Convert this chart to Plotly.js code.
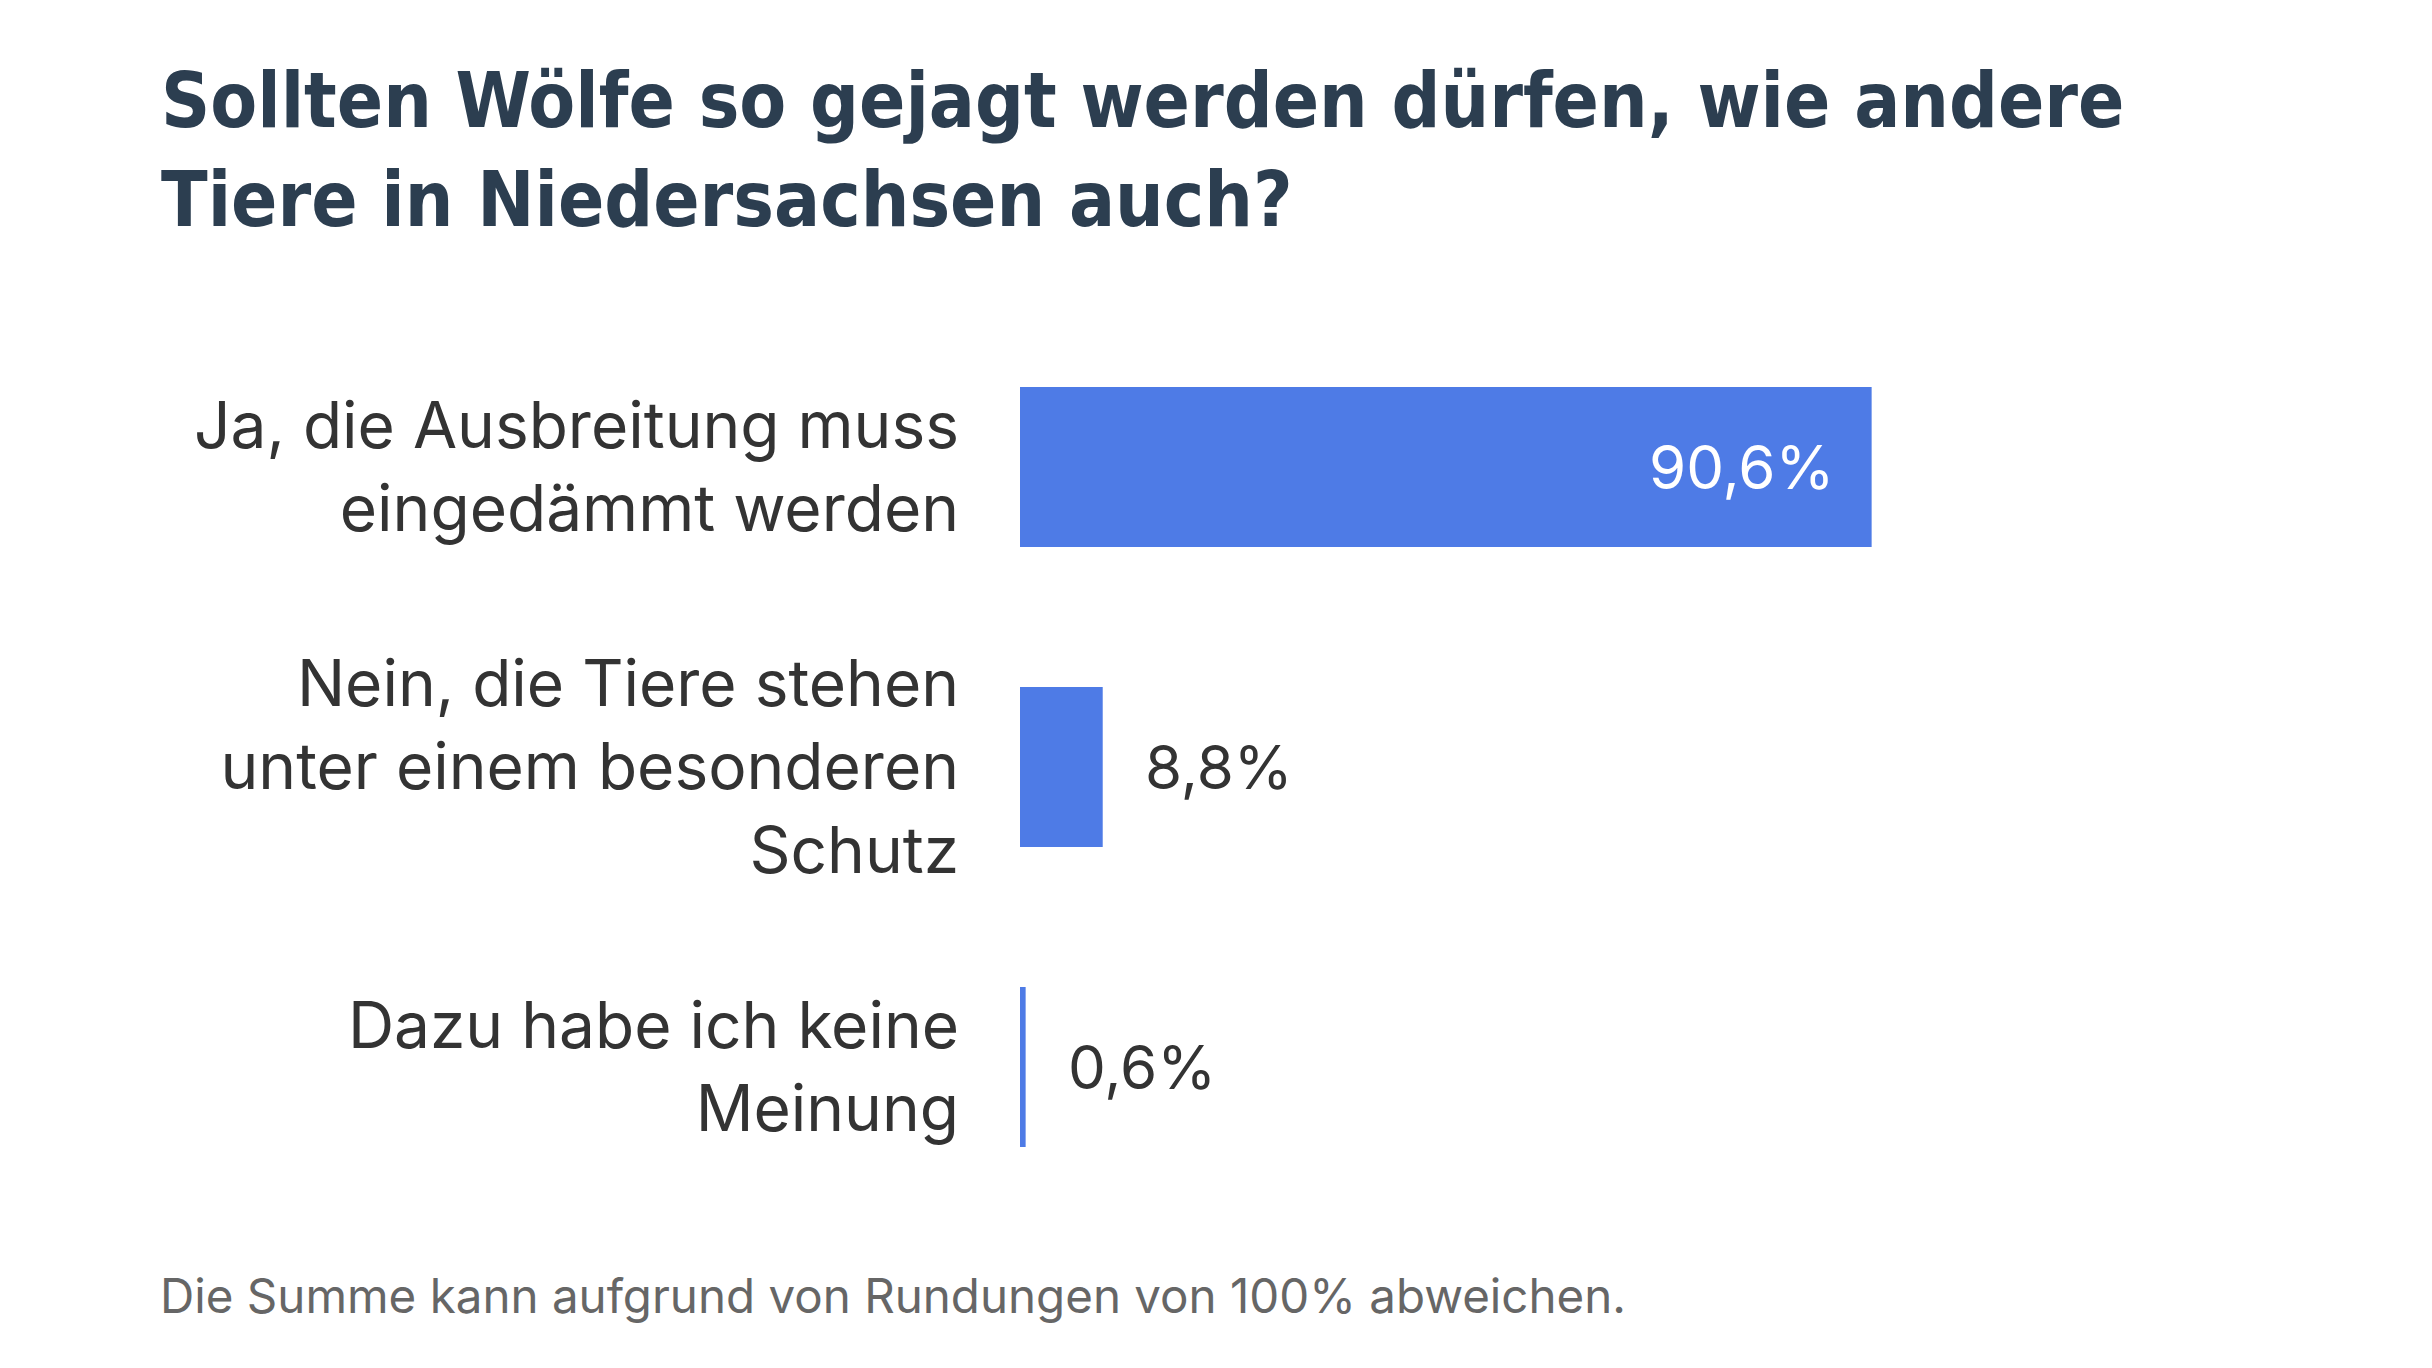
<!DOCTYPE html>
<html>
<head>
<meta charset="utf-8">
<script src="https://cdn.plot.ly/plotly-3.0.1.min.js"></script>
<style>html,body{margin:0;padding:0;background:#fff;}#chart{width:2432px;height:1368px;}</style>
</head>
<body>
<div id="chart"></div>
<script>
const categories = [
  "Ja, die Ausbreitung muss<br>eingedämmt werden",
  "Nein, die Tiere stehen<br>unter einem besonderen<br>Schutz",
  "Dazu habe ich keine<br>Meinung"
];
const values = [90.6, 8.8, 0.6];
const valueLabels = ["90,6%", "8,8%", "0,6%"];
const titleText = "Sollten Wölfe so gejagt werden dürfen, wie andere<br>Tiere in Niedersachsen auch?";
const footnote = "Die Summe kann aufgrund von Rundungen von 100% abweichen.";

const BAR = "#4e7be6";
const FONT = "Inter, 'Noto Sans', sans-serif";

const annotations = values.map((v, i) => {
  const inside = v > 50;
  return {
    x: v, y: categories[i], xref: "x", yref: "y",
    text: valueLabels[i], showarrow: false,
    xanchor: inside ? "right" : "left",
    xshift: inside ? -36 : 40,
    font: {family: FONT, size: 60, color: inside ? "#ffffff" : "#333333"}
  };
});
annotations.push({
  x: -0.9170, y: -0.087, xref: "paper", yref: "paper",
  xanchor: "left", yanchor: "middle", showarrow: false,
  text: footnote,
  font: {family: FONT, size: 47.5, color: "#666666"}
});

const data = [{
  type: "bar", orientation: "h",
  x: values, y: categories,
  marker: {color: BAR},
  hoverinfo: "none"
}];

const layout = {
  width: 2432, height: 1368,
  paper_bgcolor: "#ffffff", plot_bgcolor: "#ffffff",
  margin: {l: 1020, r: 472, t: 317, b: 151},
  bargap: 0.4667,
  showlegend: false,
  title: {
    text: titleText,
    xref: "container", yref: "container",
    x: 161/2432, xanchor: "left",
    y: 1 - 127/1368, yanchor: "top",
    font: {family: "'DejaVu Sans Condensed', 'DejaVu Sans', sans-serif", size: 76, color: "#2c3e50", weight: 700}
  },
  xaxis: {range: [0, 100], visible: false, fixedrange: true},
  yaxis: {
    autorange: "reversed", showgrid: false, zeroline: false, showline: false,
    ticks: "", ticklabelstandoff: 60,
    tickfont: {family: FONT, size: 64, color: "#333333"},
    fixedrange: true
  },
  annotations: annotations
};

Plotly.newPlot("chart", data, layout, {displayModeBar: false, staticPlot: true});
</script>
</body>
</html>
